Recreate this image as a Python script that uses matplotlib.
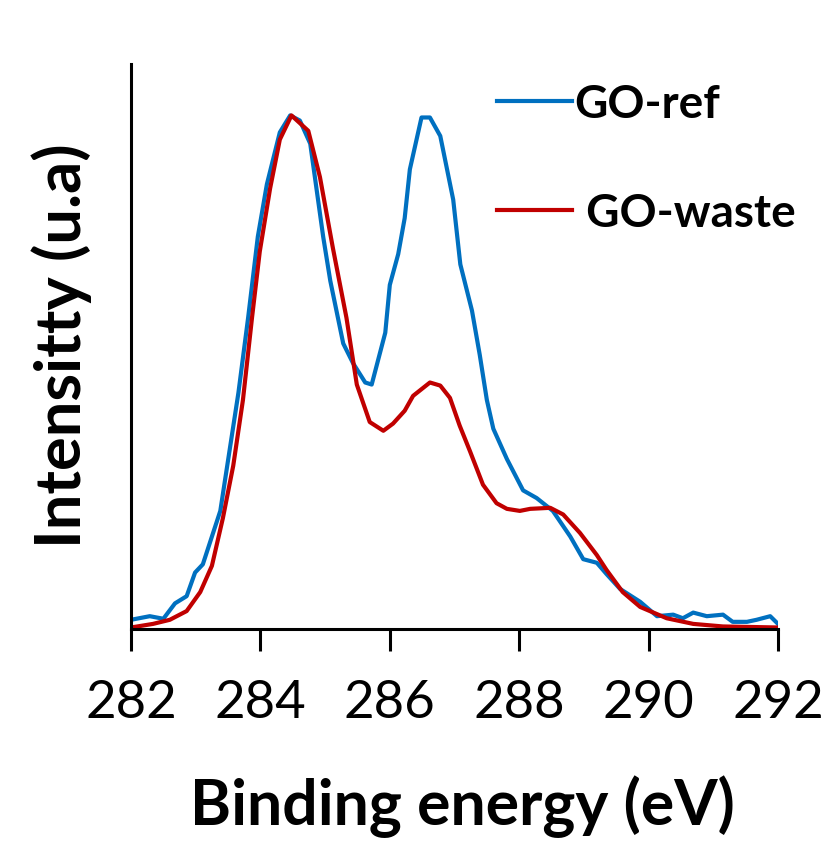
import matplotlib.pyplot as plt

plt.rcParams['font.family'] = ['Lato', 'DejaVu Sans']

# XPS C1s spectra, intensity normalised to the main peak
be_ref = [282.0, 282.29, 282.5, 282.68, 282.86, 282.99, 283.11, 283.38, 283.66, 283.81,
          283.96, 284.1, 284.3, 284.46, 284.61, 284.77, 284.97, 285.08, 285.28, 285.43,
          285.62, 285.72, 285.93, 286.0, 286.13, 286.23, 286.31, 286.49, 286.62, 286.78,
          286.98, 287.09, 287.27, 287.39, 287.5, 287.6, 287.81, 288.06, 288.27, 288.52,
          288.79, 288.99, 289.2, 289.35, 289.56, 289.87, 290.13, 290.38, 290.53, 290.69,
          290.9, 291.15, 291.3, 291.52, 291.67, 291.88, 292.0]
int_ref = [0.018, 0.025, 0.02, 0.05, 0.064, 0.11, 0.126, 0.23, 0.46, 0.606,
           0.764, 0.866, 0.967, 1.0, 0.99, 0.945, 0.764, 0.678, 0.556, 0.518,
           0.48, 0.476, 0.577, 0.67, 0.73, 0.80, 0.895, 0.996, 0.996, 0.96,
           0.836, 0.71, 0.62, 0.534, 0.446, 0.39, 0.331, 0.27, 0.255, 0.23,
           0.18, 0.136, 0.129, 0.107, 0.078, 0.053, 0.025, 0.028, 0.021, 0.032,
           0.025, 0.028, 0.014, 0.014, 0.018, 0.025, 0.01]

be_waste = [282.0, 282.34, 282.6, 282.86, 283.07, 283.25, 283.42, 283.58, 283.73, 283.87,
            283.99, 284.15, 284.3, 284.48, 284.74, 284.92, 285.12, 285.33, 285.49, 285.69,
            285.9, 286.05, 286.23, 286.36, 286.62, 286.78, 286.93, 287.08, 287.24, 287.44,
            287.65, 287.81, 288.01, 288.17, 288.48, 288.68, 288.94, 289.2, 289.35, 289.6,
            289.87, 290.28, 290.69, 291.15, 292.0]
int_waste = [0.003, 0.01, 0.018, 0.035, 0.072, 0.123, 0.216, 0.318, 0.446, 0.606,
             0.735, 0.858, 0.953, 1.0, 0.97, 0.88, 0.742, 0.606, 0.476, 0.403,
             0.386, 0.40, 0.425, 0.454, 0.48, 0.474, 0.45, 0.396, 0.346, 0.281,
             0.245, 0.234, 0.23, 0.234, 0.236, 0.223, 0.187, 0.144, 0.115, 0.072,
             0.043, 0.021, 0.01, 0.005, 0.003]

x_ticks = [282, 284, 286, 288, 290, 292]

fig = plt.figure(figsize=(8.23, 8.45), dpi=100)
ax = fig.add_axes([0.1592, 0.2544, 0.7861, 0.6686])

ax.plot(be_ref, int_ref, color='#0070C0', lw=3.0, label='GO-ref')
ax.plot(be_waste, int_waste, color='#C00000', lw=3.0, label=' GO-waste')

ax.set_xlim(282, 292)
ax.set_ylim(0, 1.10)
ax.set_xticks(x_ticks)
ax.set_yticks([])
for s in ['top', 'right']:
    ax.spines[s].set_visible(False)
for s in ['left', 'bottom']:
    ax.spines[s].set_linewidth(2.2)
ax.tick_params(axis='x', direction='out', length=16, width=2.2, pad=20, labelsize=38)

leg = ax.legend(loc='upper left', bbox_to_anchor=(0.566, 0.967), frameon=False,
                prop={'weight': 'bold', 'size': 33}, handlelength=1.64,
                handletextpad=0.05, labelspacing=1.46, borderpad=0, borderaxespad=0)

fig.text(62 / 823, 1 - 346 / 845, 'Intensitty (u.a)', rotation=90, ha='center',
         va='center', fontsize=45.5, fontweight='bold')
fig.text(462 / 823, 1 - 825 / 845, 'Binding energy (eV)', ha='center', va='baseline',
         fontsize=45, fontweight='bold')

plt.savefig('out.png', dpi=100)
plt.close()
